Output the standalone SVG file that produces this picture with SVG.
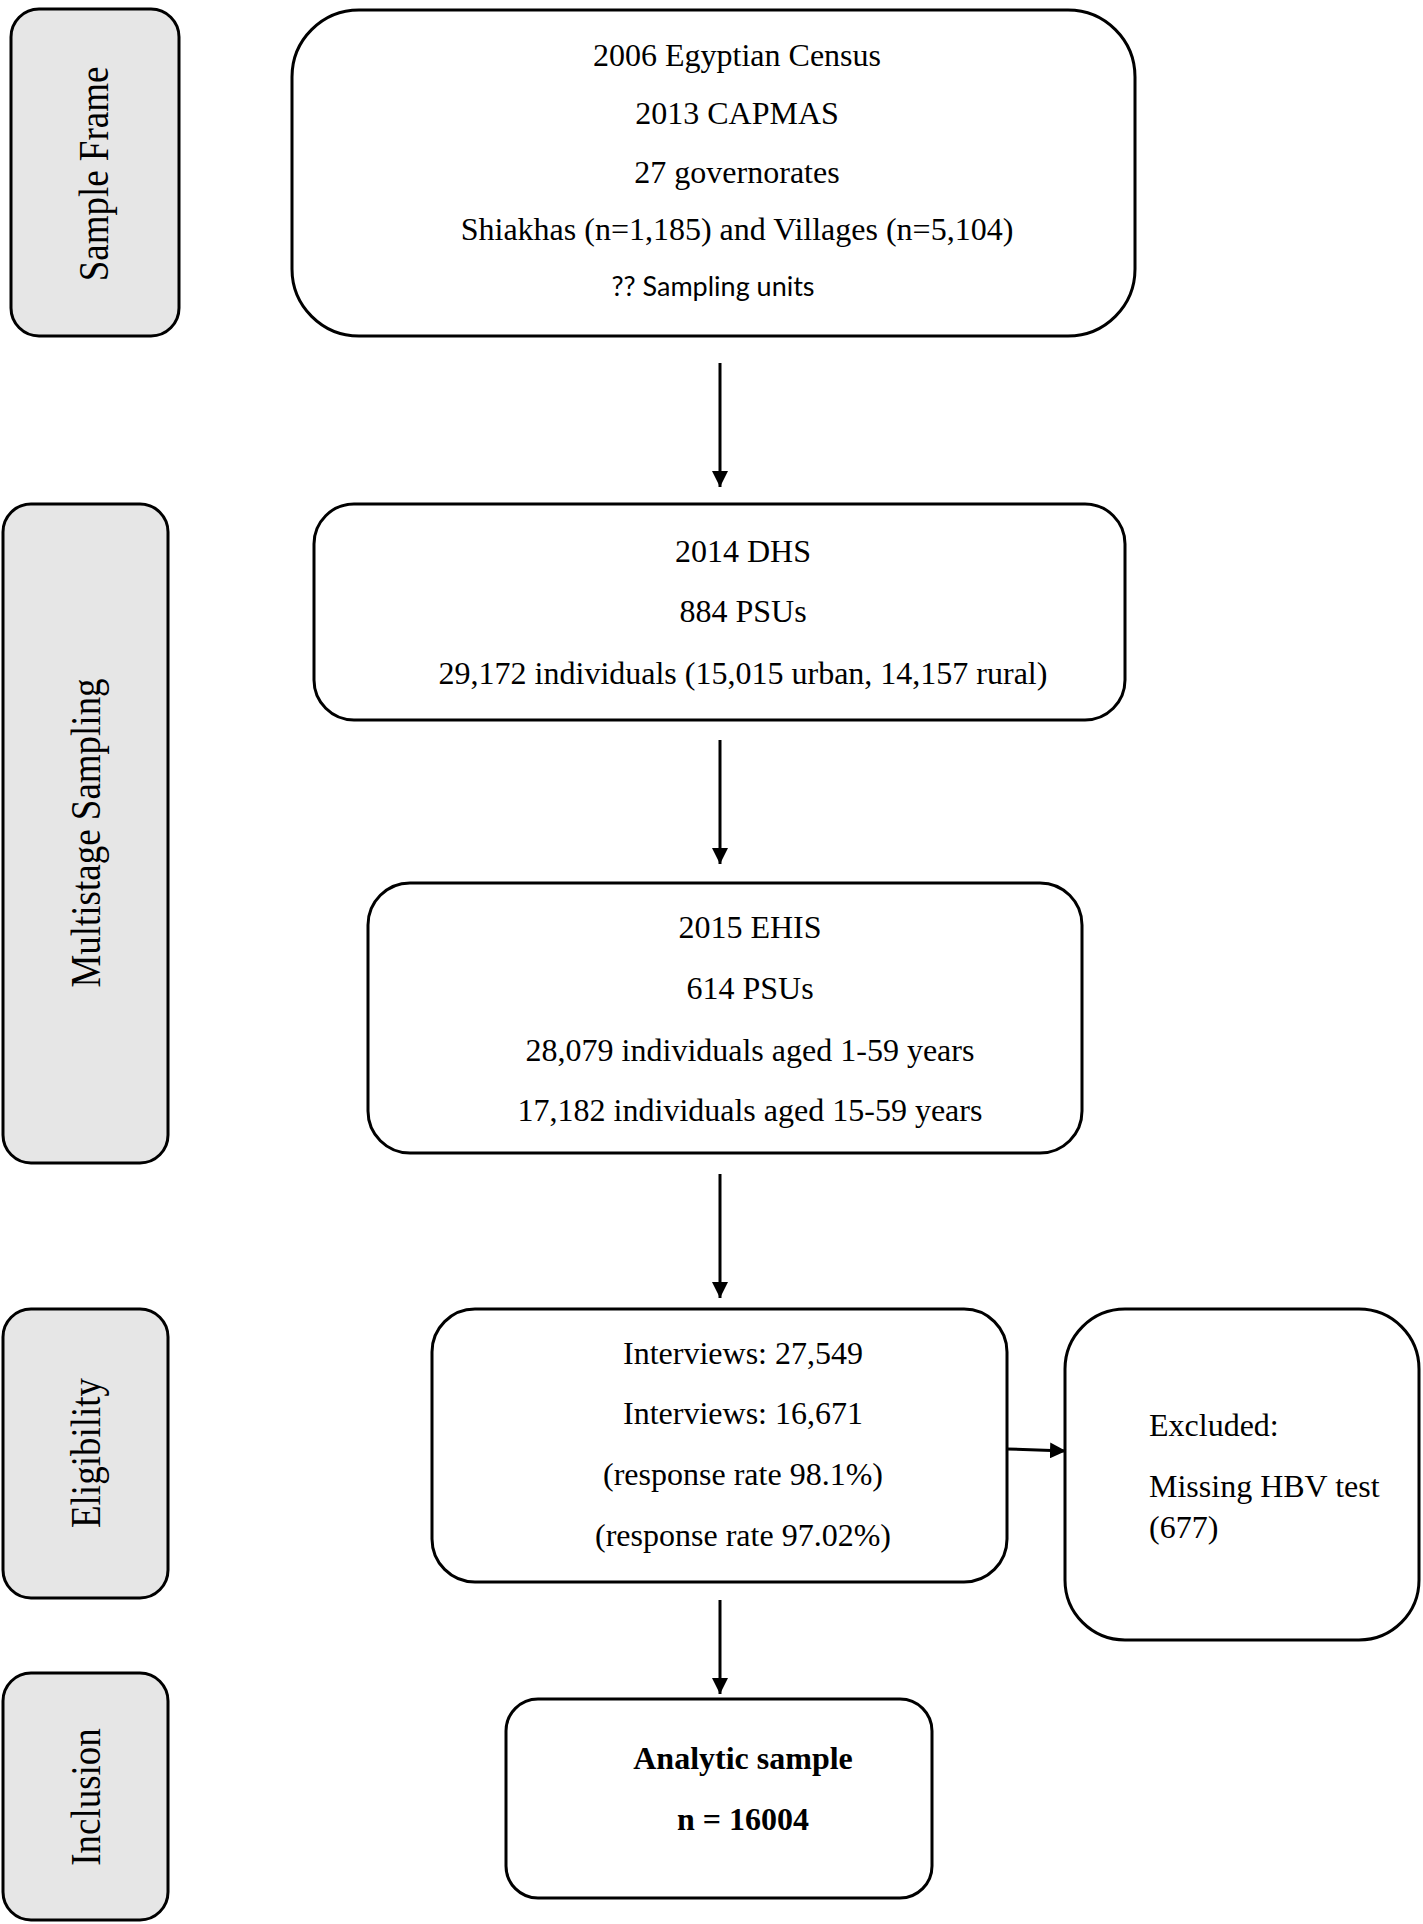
<svg xmlns="http://www.w3.org/2000/svg" width="1423" height="1924" viewBox="0 0 1423 1924">
<defs>
<style>
.lab{fill:#e6e6e6;stroke:#000;stroke-width:3}
.box{fill:#fff;stroke:#000;stroke-width:3}
.t{font-family:"Liberation Serif","Times New Roman",serif;font-size:32px;fill:#000;text-anchor:middle}
.tl{font-family:"Liberation Serif","Times New Roman",serif;font-size:32px;fill:#000}
.b{font-weight:bold}
.s{font-family:Lato,"Liberation Sans",sans-serif;font-size:27px;fill:#000;text-anchor:middle}
.lt{font-family:"Liberation Serif","Times New Roman",serif;font-size:37px;fill:#000;text-anchor:middle}
.c{stroke:#000;stroke-width:3;fill:none}
</style>
<marker id="ah" markerWidth="16" markerHeight="16" viewBox="0 0 16 16" refX="16" refY="8" orient="auto" markerUnits="userSpaceOnUse">
<path d="M0,0 L16,8 L0,16 Z" fill="#000"/>
</marker>
</defs>
<rect width="1423" height="1924" fill="#fff"/>

<g id="label-sample-frame">
<rect class="lab" x="11" y="9" width="168" height="327" rx="28"/>
<text class="lt" transform="translate(108,174) rotate(-90) scale(1,1.12)">Sample Frame</text>
</g>
<g id="label-multistage">
<rect class="lab" x="3" y="504" width="165" height="659" rx="28"/>
<text class="lt" transform="translate(100,833) rotate(-90) scale(1,1.12)">Multistage Sampling</text>
</g>
<g id="label-eligibility">
<rect class="lab" x="3" y="1309" width="165" height="289" rx="28"/>
<text class="lt" transform="translate(100,1453) rotate(-90) scale(1,1.12)">Eligibility</text>
</g>
<g id="label-inclusion">
<rect class="lab" x="3" y="1673" width="165" height="247" rx="28"/>
<text class="lt" transform="translate(100,1797) rotate(-90) scale(1,1.12)">Inclusion</text>
</g>

<g id="node-census">
<rect class="box" x="292" y="10" width="843" height="326" rx="67"/>
<text class="t" x="737" y="66">2006 Egyptian Census</text>
<text class="t" x="737" y="124">2013 CAPMAS</text>
<text class="t" x="737" y="183">27 governorates</text>
<text class="t" x="737" y="240">Shiakhas (n=1,185) and Villages (n=5,104)</text>
<text class="s" x="713" y="296">?? Sampling units</text>
</g>

<g id="node-dhs">
<rect class="box" x="314" y="504" width="811" height="216" rx="40"/>
<text class="t" x="743" y="562">2014 DHS</text>
<text class="t" x="743" y="622">884 PSUs</text>
<text class="t" x="743" y="684">29,172 individuals (15,015 urban, 14,157 rural)</text>
</g>

<g id="node-ehis">
<rect class="box" x="368" y="883" width="714" height="270" rx="42"/>
<text class="t" x="750" y="938">2015 EHIS</text>
<text class="t" x="750" y="999">614 PSUs</text>
<text class="t" x="750" y="1061">28,079 individuals aged 1-59 years</text>
<text class="t" x="750" y="1121">17,182 individuals aged 15-59 years</text>
</g>

<g id="node-interviews">
<rect class="box" x="432" y="1309" width="575" height="273" rx="43"/>
<text class="t" x="743" y="1364">Interviews: 27,549</text>
<text class="t" x="743" y="1424">Interviews: 16,671</text>
<text class="t" x="743" y="1485">(response rate 98.1%)</text>
<text class="t" x="743" y="1546">(response rate 97.02%)</text>
</g>

<g id="node-excluded">
<rect class="box" x="1065" y="1309" width="354" height="331" rx="60"/>
<text class="tl" x="1149" y="1436">Excluded:</text>
<text class="tl" x="1149" y="1497">Missing HBV test</text>
<text class="tl" x="1149" y="1538">(677)</text>
</g>

<g id="node-analytic">
<rect class="box" x="506" y="1699" width="426" height="199" rx="32"/>
<text class="t b" x="743" y="1769">Analytic sample</text>
<text class="t b" x="743" y="1830">n = 16004</text>
</g>

<g id="connectors">
<line class="c" x1="720" y1="363" x2="720" y2="487" marker-end="url(#ah)"/>
<line class="c" x1="720" y1="740" x2="720" y2="864" marker-end="url(#ah)"/>
<line class="c" x1="720" y1="1174" x2="720" y2="1298" marker-end="url(#ah)"/>
<line class="c" x1="1007" y1="1449" x2="1066" y2="1451" marker-end="url(#ah)"/>
<line class="c" x1="720" y1="1600" x2="720" y2="1694" marker-end="url(#ah)"/>
</g>
</svg>
